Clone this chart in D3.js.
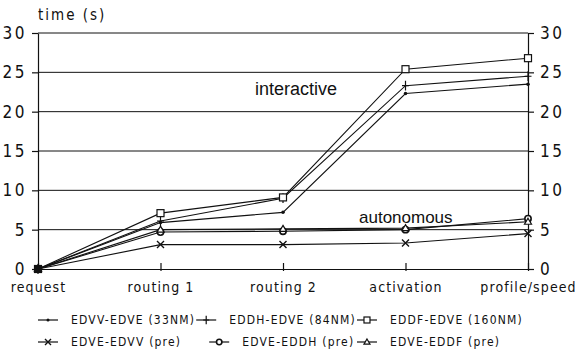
<!DOCTYPE html>
<html>
<head>
<meta charset="utf-8">
<script src="https://cdn.jsdelivr.net/npm/d3@7"></script>
<style>
  body { margin: 0; background: #fff; }
  svg { display: block; }
  .lbl { font-family: "Liberation Sans Narrow", "DejaVu Sans Condensed", sans-serif; fill: #111; }
</style>
</head>
<body>
<svg width="577" height="358"></svg>
<script>
const width = 577;
const height = 358;

const categories = ["request", "routing 1", "routing 2", "activation", "profile/speed"];
const yTicks = [0, 5, 10, 15, 20, 25, 30];

const seriesNames = ["EDVV-EDVE (33NM)", "EDDH-EDVE (84NM)", "EDDF-EDVE (160NM)",
                     "EDVE-EDVV (pre)", "EDVE-EDDH (pre)", "EDVE-EDDF (pre)"];
const markers = ["dot", "plus", "square", "cross", "diamond", "triangle"];

const edvvEdve = [0, 5.9, 7.2, 22.3, 23.5];
const eddhEdve = [0, 6.1, 9.0, 23.3, 24.5];
const eddfEdve = [0, 7.1, 9.1, 25.4, 26.8];
const edveEdvvPre = [0, 3.1, 3.1, 3.3, 4.5];
const edveEddhPre = [0, 4.7, 4.8, 5.0, 6.4];
const edveEddfPre = [0, 5.0, 5.1, 5.2, 6.0];
const seriesValues = [edvvEdve, eddhEdve, eddfEdve, edveEdvvPre, edveEddhPre, edveEddfPre];

const ink = "#111";
const plotLeft = 38, plotRight = 528, plotTop = 33, plotBottom = 269;

const x = d3.scalePoint().domain(categories).range([plotLeft, plotRight]);
const y = d3.scaleLinear().domain([0, 30]).range([plotBottom, plotTop]);

const svg = d3.select("svg");

// horizontal grid lines
svg.append("g")
    .selectAll("line")
    .data(yTicks.slice(1)).enter()
    .append("line")
    .attr("x1", plotLeft)
    .attr("x2", plotRight)
    .attr("y1", d => y(d))
    .attr("y2", d => y(d))
    .attr("stroke", ink)
    .attr("stroke-width", 1);

function styleAxis(g) {
    g.attr("font-family", null);
    g.selectAll("path, line").attr("stroke", ink).attr("stroke-width", 1.2);
    g.selectAll("text")
        .attr("class", "lbl")
        .attr("font-size", 17)
        .attr("letter-spacing", 2.5);
}

svg.append("g")
    .attr("transform", "translate(" + plotLeft + ",0)")
    .call(d3.axisLeft(y).tickValues(yTicks).tickSize(6).tickSizeOuter(0).tickPadding(5))
    .call(styleAxis);

svg.append("g")
    .attr("transform", "translate(" + plotRight + ",0)")
    .call(d3.axisRight(y).tickValues(yTicks).tickSize(6).tickSizeOuter(0).tickPadding(6))
    .call(styleAxis);

const xAxis = svg.append("g")
    .attr("transform", "translate(0," + plotBottom + ")")
    .call(d3.axisBottom(x).tickSize(2).tickSizeOuter(0));
xAxis.attr("font-family", null);
xAxis.selectAll("path, line").attr("stroke", ink).attr("stroke-width", 1.2);
xAxis.selectAll(".tick line").attr("y1", -6);
xAxis.selectAll("text")
    .attr("class", "lbl")
    .attr("font-size", 14)
    .attr("letter-spacing", 1.1)
    .attr("y", 23)
    .attr("dy", 0);

svg.append("text")
    .attr("class", "lbl")
    .attr("x", 38)
    .attr("y", 20)
    .attr("font-size", 15)
    .attr("letter-spacing", 2)
    .text("time (s)");

function drawMarker(g, type, cx, cy, s) {
    if (type === "dot") {
        g.append("circle").attr("cx", cx).attr("cy", cy).attr("r", s * 0.5).attr("fill", ink);
    } else if (type === "plus") {
        g.append("path").attr("d", `M${cx - s},${cy}H${cx + s}M${cx},${cy - s * 1.4}V${cy + s * 1.4}`)
            .attr("stroke", ink).attr("stroke-width", 1.2).attr("fill", "none");
    } else if (type === "square") {
        g.append("rect").attr("x", cx - s).attr("y", cy - s).attr("width", 2 * s).attr("height", 2 * s)
            .attr("fill", "#fff").attr("stroke", ink).attr("stroke-width", 1.2);
    } else if (type === "cross") {
        g.append("path").attr("d", `M${cx - s},${cy - s}L${cx + s},${cy + s}M${cx - s},${cy + s}L${cx + s},${cy - s}`)
            .attr("stroke", ink).attr("stroke-width", 1.4).attr("fill", "none");
    } else if (type === "diamond") {
        g.append("circle").attr("cx", cx).attr("cy", cy).attr("r", s * 0.9)
            .attr("fill", "#fff").attr("stroke", ink).attr("stroke-width", 1.6);
    } else if (type === "triangle") {
        g.append("path").attr("d", `M${cx},${cy - s}L${cx + s},${cy + s * 0.7}L${cx - s},${cy + s * 0.7}Z`)
            .attr("fill", "#fff").attr("stroke", ink).attr("stroke-width", 1.2);
    }
}

const line = d3.line().x((d, i) => x(categories[i])).y(d => y(d));

seriesValues.forEach((vals, k) => {
    svg.append("path")
        .datum(vals)
        .attr("d", line)
        .attr("fill", "none")
        .attr("stroke", ink)
        .attr("stroke-width", 1.1);
});

seriesValues.forEach((vals, k) => {
    const g = svg.append("g");
    vals.forEach((v, i) => drawMarker(g, markers[k], x(categories[i]), y(v), 3.5));
});

svg.append("circle").attr("cx", x(categories[0])).attr("cy", y(0)).attr("r", 4).attr("fill", ink);

svg.append("text")
    .attr("x", 255)
    .attr("y", 95)
    .attr("font-family", "Liberation Sans, Arial, sans-serif")
    .attr("font-size", 18)
    .attr("fill", ink)
    .text("interactive");

svg.append("text")
    .attr("x", 359)
    .attr("y", 223)
    .attr("font-family", "Liberation Sans, Arial, sans-serif")
    .attr("font-size", 17)
    .attr("fill", ink)
    .text("autonomous");

// legend: row 1 packs symbols right after the previous text, row 2 uses wider gaps
const legendRows = [324, 346];
const legend = svg.append("g");
let row1Sym = [];
seriesNames.forEach((name, k) => {
    const row = Math.floor(k / 3);
    const col = k % 3;
    let lx;
    if (row === 0) {
        lx = col === 0 ? 38 : row1Sym[col - 1].end + 1;
    } else {
        lx = col === 0 ? 38 : (col === 1 ? row1Sym[1].x + 13 : row1Sym[2].x);
    }
    const ly = legendRows[row];
    legend.append("line")
        .attr("x1", lx).attr("x2", lx + 20)
        .attr("y1", ly - 4).attr("y2", ly - 4)
        .attr("stroke", ink).attr("stroke-width", 1.2);
    drawMarker(legend, markers[k], lx + 10, ly - 4, 3);
    const t = legend.append("text")
        .attr("class", "lbl")
        .attr("x", lx + 33)
        .attr("y", ly)
        .attr("font-size", 12)
        .attr("letter-spacing", 1.2)
        .text(name);
    if (row === 0) row1Sym.push({ x: lx, end: lx + 33 + t.node().getComputedTextLength() });
});
</script>
</body>
</html>
